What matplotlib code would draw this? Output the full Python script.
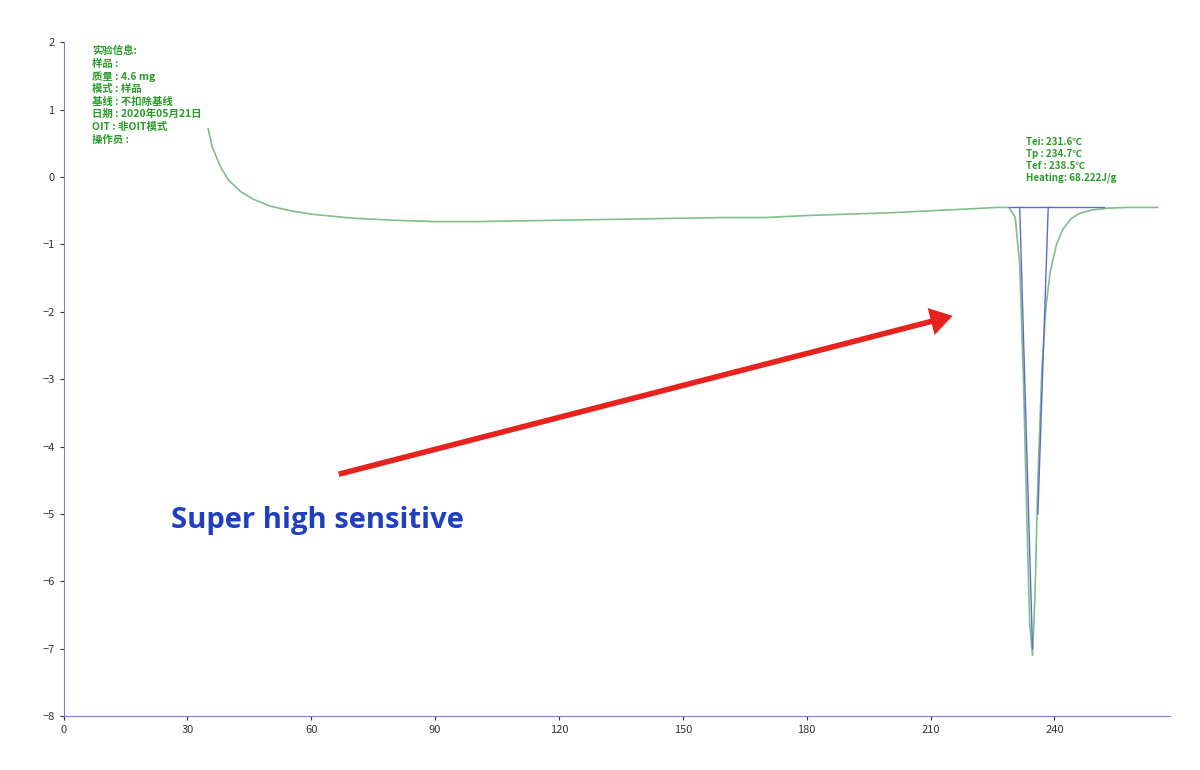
import numpy as np
import matplotlib.pyplot as plt

plt.rcParams['font.family'] = ['Noto Sans CJK SC', 'DejaVu Sans']

# DSC curve points (temperature, heat flow)
temp = [35, 36, 38, 40, 43, 46, 50, 55, 60, 70, 80, 90, 100, 110, 120, 130, 140, 150, 160, 170,
        180, 190, 200, 210, 220, 226, 229, 230.5, 231.6, 232.5, 233.3, 234.0, 234.7, 235.3,
        236.0, 237.0, 238.0, 239.0, 240.5, 242.0, 244.0, 246.0, 249.0, 253.0, 258.0, 265.0]
heat = [0.72, 0.45, 0.15, -0.05, -0.22, -0.33, -0.43, -0.5, -0.55, -0.61, -0.64, -0.66, -0.66,
        -0.65, -0.64, -0.63, -0.62, -0.61, -0.6, -0.6, -0.57, -0.55, -0.53, -0.5, -0.47, -0.45,
        -0.45, -0.6, -1.3, -3.0, -5.0, -6.6, -7.1, -6.2, -4.5, -2.8, -1.9, -1.4, -1.0, -0.78,
        -0.62, -0.54, -0.49, -0.46, -0.45, -0.45]

info_lines = ['实验信息:', '样品 :', '质量 : 4.6 mg', '模式 : 样品', '基线 : 不扣除基线',
              '日期 : 2020年05月21日', 'OIT : 非OIT模式', '操作员 :']
peak_lines = ['Tei: 231.6℃', 'Tp : 234.7℃', 'Tef : 238.5℃', 'Heating: 68.222J/g']

fig = plt.figure(figsize=(12, 7.7), dpi=100)
ax = fig.add_axes([0.053, 0.07, 0.922, 0.875])
ax.plot(temp, heat, color='#7fbf8a', lw=1.2)

# baseline and tangent lines
ax.plot([229, 252], [-0.45, -0.45], color='#5a6ad0', lw=1)
ax.plot([231.6, 234.7], [-0.45, -7.0], color='#5a6ad0', lw=1)
ax.plot([238.5, 236.0], [-0.45, -5.0], color='#5a6ad0', lw=1)

ax.text(7, 1.95, '\n'.join(info_lines), color='#2a9a2a', fontsize=7.5, fontweight='bold',
        va='top', linespacing=1.3)
ax.text(233, 0.6, '\n'.join(peak_lines), color='#2a9a2a', fontsize=7, fontweight='bold',
        va='top', linespacing=1.25)

ax.annotate('', xy=(216, -2.05), xytext=(66, -4.42),
            arrowprops=dict(arrowstyle='simple,head_width=2.0,head_length=1.6,tail_width=0.4',
                            color='#e8231d', lw=0))
ax.text(26, -5.1, 'Super high sensitive', color='#1f3fbf', fontsize=21, fontweight='bold',
        va='center', family=['Open Sans', 'DejaVu Sans'])

ax.set_xlim(0, 268)
ax.set_ylim(-8, 2)
ax.set_xticks(range(0, 241, 30))
ax.set_yticks(range(-8, 3))
for s in ['top', 'right']:
    ax.spines[s].set_visible(False)
for s in ['left', 'bottom']:
    ax.spines[s].set_color('#7a80c8')
ax.tick_params(labelsize=8, length=3, colors='#333333')
fig.savefig('out.png')
